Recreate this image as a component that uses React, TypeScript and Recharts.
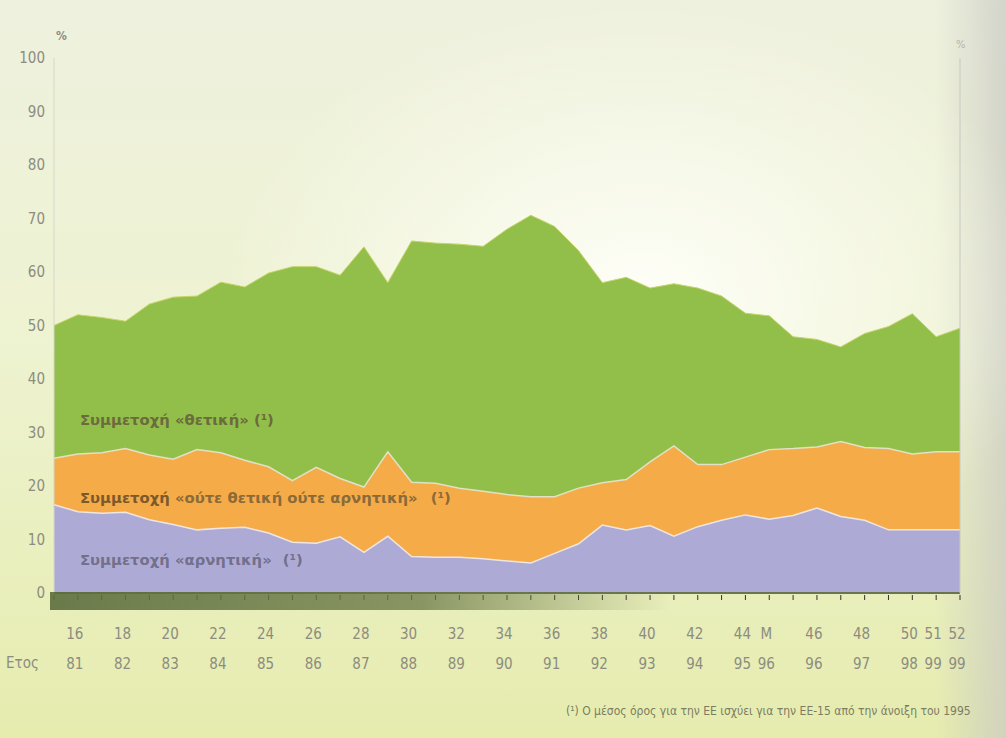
import React from 'react';
import { AreaChart, Area, XAxis, YAxis } from 'recharts';

const surveys = ['15','16','17','18','19','20','21','22','23','24','25','26','27','28','29','30','31','32','33','34','35','36','37','38','39','40','41','42','43','44','M','45','46','47','48','49','50','51','52'];
const tickTop = ['','16','','18','','20','','22','','24','','26','','28','','30','','32','','34','','36','','38','','40','','42','','44','M','','46','','48','','50','51','52'];
const tickYear = ['','81','','82','','83','','84','','85','','86','','87','','88','','89','','90','','91','','92','','93','','94','','95','96','','96','','97','','98','99','99'];

const positive = [50, 52, 51.5, 50.8, 54, 55.3, 55.5, 58.1, 57.2, 59.8, 61, 61, 59.4, 64.7, 58, 65.8, 65.4, 65.2, 64.8, 68, 70.6, 68.5, 64, 58, 59, 57, 57.8, 57, 55.5, 52.3, 51.8, 47.9, 47.4, 46, 48.5, 49.8, 52.2, 47.9, 49.5];
const neither = [25.2, 26, 26.2, 27, 25.8, 25, 26.8, 26.2, 24.8, 23.6, 21, 23.5, 21.4, 19.8, 26.4, 20.7, 20.5, 19.6, 19, 18.4, 18, 18, 19.6, 20.6, 21.2, 24.5, 27.5, 24, 24, 25.4, 26.8, 27, 27.3, 28.3, 27.2, 27, 26, 26.4, 26.4];
const negative = [16.5, 15.2, 14.9, 15.1, 13.7, 12.8, 11.8, 12.1, 12.3, 11.2, 9.5, 9.3, 10.5, 7.6, 10.6, 6.8, 6.7, 6.7, 6.4, 6, 5.6, 7.4, 9.2, 12.7, 11.8, 12.6, 10.6, 12.4, 13.6, 14.6, 13.8, 14.5, 15.9, 14.3, 13.6, 11.8, 11.8, 11.8, 11.8];

const leftTicks = [0, 10, 20, 30, 40, 50, 60, 70, 80, 90, 100];
const rightTicks = [13, 27, 51];

const data = surveys.map((s, i) => ({
  survey: s,
  positive: positive[i],
  neither: neither[i],
  negative: negative[i],
}));

const FONT = '"Liberation Sans Narrow", "DejaVu Sans Condensed", "Roboto", sans-serif';
const GREY = '#8c8c80';
const LABEL_FONT = '"DejaVu Sans", sans-serif';

const XTick = (props: any) => {
  const { x, y, index } = props;
  const top = tickTop[index];
  const yr = tickYear[index];
  return (
    <g>
      <line x1={x} x2={x} y1={y - 6} y2={y - 1} stroke="#333" strokeWidth={1} />
      {top ? (
        <text x={x - 3} y={y + 38} textAnchor="middle" fontSize={15} fill={GREY} fontFamily={FONT}>{top}</text>
      ) : null}
      {yr ? (
        <text x={x - 3} y={y + 68} textAnchor="middle" fontSize={15} fill={GREY} fontFamily={FONT}>{yr}</text>
      ) : null}
    </g>
  );
};

export default function App() {
  return (
    <div
      style={{
        position: 'absolute',
        left: 0,
        top: 0,
        width: 1006,
        height: 738,
        overflow: 'hidden',
        background:
          'radial-gradient(ellipse 420px 300px at 640px 300px, rgba(255,255,250,0.95), rgba(255,255,250,0) 100%), linear-gradient(90deg, rgba(0,0,0,0) 0px, rgba(0,0,0,0) 935px, rgba(200,200,195,0.7) 1006px), linear-gradient(180deg, #eef1de 0%, #eef3d2 45%, #e6ecae 100%)',
      }}
    >
      <AreaChart
        width={1006}
        height={738}
        data={data}
        margin={{ top: 58, right: 6, left: 14, bottom: 55 }}
      >
        <XAxis
          dataKey="survey"
          interval={0}
          tick={<XTick />}
          tickLine={false}
          axisLine={{ stroke: '#6a7550', strokeWidth: 2 }}
          height={90}
        />
        <YAxis
          yAxisId="left"
          domain={[0, 100]}
          ticks={leftTicks}
          interval={0}
          width={40}
          tickLine={false}
          tickSize={0}
          tickMargin={9}
          axisLine={{ stroke: '#d6d8c8', strokeWidth: 1 }}
          tick={{ fontSize: 15, fill: GREY, fontFamily: FONT }}
        />
        <YAxis
          yAxisId="right"
          orientation="right"
          domain={[0, 100]}
          ticks={rightTicks}
          interval={0}
          width={40}
          tickLine={false}
          tickSize={0}
          tickMargin={6}
          axisLine={{ stroke: '#c8c8c0', strokeWidth: 1 }}
          tick={{ fontSize: 12, fill: '#9a9a92', fontFamily: FONT }}
        />
        <Area
          yAxisId="left"
          type="linear"
          dataKey="positive"
          fill="#92bf4a"
          fillOpacity={1}
          stroke="#c6d36a"
          strokeWidth={1}
          isAnimationActive={false}
        />
        <Area
          yAxisId="left"
          type="linear"
          dataKey="neither"
          fill="#f5ab48"
          fillOpacity={1}
          stroke="#dfe2c6"
          strokeWidth={1.5}
          isAnimationActive={false}
        />
        <Area
          yAxisId="left"
          type="linear"
          dataKey="negative"
          fill="#adabd6"
          fillOpacity={1}
          stroke="#f0e6e0"
          strokeWidth={1.5}
          isAnimationActive={false}
        />
      </AreaChart>

      <div
        style={{
          position: 'absolute',
          left: 50,
          top: 592,
          width: 620,
          height: 18,
          background: 'linear-gradient(90deg, rgba(92,110,62,0.9) 0%, rgba(105,120,70,0.75) 60%, rgba(120,130,80,0) 100%)',
          pointerEvents: 'none',
        }}
      />

      <div style={{ position: 'absolute', left: 56, top: 29, fontSize: 12, color: GREY, fontFamily: FONT, fontWeight: 'bold' }}>%</div>
      <div style={{ position: 'absolute', left: 956, top: 38, fontSize: 11, color: '#b4b4ac', fontFamily: FONT }}>%</div>
      <div style={{ position: 'absolute', left: 6, top: 654, fontSize: 15, color: GREY, fontFamily: FONT }}>Ετος</div>

      <div style={{ position: 'absolute', left: 80, top: 411, fontSize: 14.8, fontWeight: 'bold', color: '#6c6a3e', fontFamily: LABEL_FONT, whiteSpace: 'nowrap' }}>
        Συμμετοχή «θετική» (¹)
      </div>
      <div style={{ position: 'absolute', left: 80, top: 489, fontSize: 14.8, fontWeight: 'bold', color: '#8a6a38', fontFamily: LABEL_FONT, whiteSpace: 'nowrap' }}>
        <span style={{ color: '#7a5a2c' }}>Συμμετοχή</span> «ούτε θετική ούτε αρνητική» <span style={{ marginLeft: 8 }}>(¹)</span>
      </div>
      <div style={{ position: 'absolute', left: 80, top: 551, fontSize: 14.8, fontWeight: 'bold', color: '#72708a', fontFamily: LABEL_FONT, whiteSpace: 'nowrap' }}>
        Συμμετοχή «αρνητική» <span style={{ marginLeft: 6 }}>(¹)</span>
      </div>

      <div style={{ position: 'absolute', left: 566, top: 704, fontSize: 12, color: '#7c7c62', fontFamily: FONT, whiteSpace: 'nowrap' }}>
        (¹) Ο μέσος όρος για την ΕΕ ισχύει για την ΕΕ-15 από την άνοιξη του 1995
      </div>
    </div>
  );
}
